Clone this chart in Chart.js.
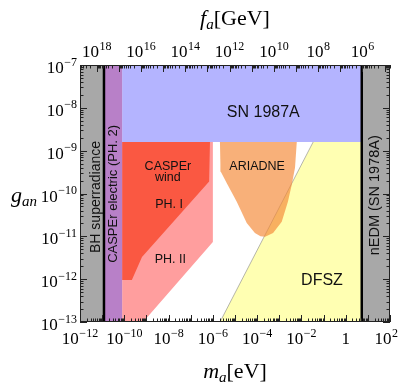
<!DOCTYPE html>
<html>
<head>
<meta charset="utf-8">
<script src="https://cdn.jsdelivr.net/npm/chart.js@4.4.0/dist/chart.umd.min.js"></script>
<style>
html,body{margin:0;padding:0;background:#ffffff;}
canvas{display:block;}
</style>
</head>
<body>
<canvas id="c" width="399" height="388"></canvas>
<script>
// ---- tick labels (powers of ten) ----
const massTickExponents = [-12, -10, -8, -6, -4, -2, 0, 2];
const couplingTickExponents = [-7, -8, -9, -10, -11, -12, -13];
const faTickExponents = [18, 16, 14, 12, 10, 8, 6];
// f_a [GeV] = faTimesMass / m_a [eV]
const faTimesMass = 5.7e6;

// ---- excluded / sensitivity regions: m_a [eV] and g_an ----
const bhMass = [1e-12, 1.21e-11, 1.21e-11, 1e-12, 1e-12];
const bhCoupling = [1e-13, 1e-13, 1e-7, 1e-7, 1e-13];

const casperElectricMass = [1.21e-11, 8e-11, 8e-11, 1.21e-11, 1.21e-11];
const casperElectricCoupling = [1e-13, 1e-13, 1e-7, 1e-7, 1e-13];

const sn1987aMass = [8e-11, 5.3, 5.3, 8e-11, 8e-11];
const sn1987aCoupling = [1.6e-9, 1.6e-9, 1e-7, 1e-7, 1.6e-9];

const nedmMass = [5.3, 1e2, 1e2, 5.3, 5.3];
const nedmCoupling = [1e-13, 1e-13, 1e-7, 1e-7, 1e-13];

const casperWindPh1Mass = [8e-11, 7.4e-7, 6.8e-7, 6.3e-10, 2.2e-10, 8e-11, 8e-11];
const casperWindPh1Coupling = [1.6e-9, 1.6e-9, 1.9e-10, 3.3e-12, 9.5e-13, 9.5e-13, 1.6e-9];

const casperWindPh2Mass = [8e-11, 1e-6, 1e-6, 7.1e-10, 8e-11, 8e-11];
const casperWindPh2Coupling = [1.6e-9, 1.6e-9, 7.4e-12, 1e-13, 1e-13, 1.6e-9];

const ariadneMass = [2.09e-6, 6.17e-3, 5.13e-3, 3.63e-3, 2.45e-3, 1.29e-3, 5.25e-4, 2.29e-4,
                     1.41e-4, 7.94e-5, 3.39e-5, 1.20e-5, 4.27e-6, 2.29e-6, 2.19e-6, 2.09e-6];
const ariadneCoupling = [1.6e-9, 1.6e-9, 3.98e-10, 1.58e-10, 6.46e-11, 2.19e-11, 1.20e-11, 9.8e-12,
                         1.0e-11, 1.20e-11, 2.04e-11, 6.46e-11, 1.74e-10, 3.24e-10, 5.0e-10, 1.6e-9];

const dfszMass = [2.1e-6, 3.4e-2, 1e2, 1e2, 2.1e-6];
const dfszCoupling = [1e-13, 1.6e-9, 1.6e-9, 1e-13, 1e-13];
const dfszEdgeMass = [2.1e-6, 3.4e-2];
const dfszEdgeCoupling = [1e-13, 1.6e-9];

const bhBoundMass = [1.21e-11, 1.21e-11];
const nedmBoundMass = [5.3, 5.3];
const fullCoupling = [1e-13, 1e-7];

// ---- region labels: text, m_a, g_an ----
const labelTexts = ['SN 1987A', 'BH superradiance', 'CASPEr electric (PH. 2)', 'nEDM (SN 1978A)',
                    'CASPEr', 'wind', 'PH. I', 'PH. II', 'ARIADNE', 'DFSZ'];
const labelMass = [1.9e-4, 5.2e-12, 3.1e-11, 21, 9.3e-9, 9.3e-9, 1.05e-8, 1.2e-8, 1.0e-4, 8.5e-2];
const labelCoupling = [7.6e-9, 8.3e-11, 9.8e-11, 9.1e-11, 4.2e-10, 2.3e-10, 5.4e-11, 2.8e-12, 4.2e-10, 9.5e-13];

function pts(xs, ys) { return xs.map((x, i) => ({x: x, y: ys[i]})); }

function region(data, color, order) {
  return { data: data, showLine: true, fill: 'shape', backgroundColor: color,
           borderColor: 'rgba(0,0,0,0)', borderWidth: 0, pointRadius: 0, order: order };
}

const datasets = [
  region(pts(dfszMass, dfszCoupling), 'rgb(255,255,178)', 20),
  { data: pts(dfszEdgeMass, dfszEdgeCoupling), showLine: true, fill: false, borderColor: 'rgba(140,140,140,0.8)',
    borderWidth: 0.8, pointRadius: 0, order: 19 },
  region(pts(ariadneMass, ariadneCoupling), 'rgba(244,138,58,0.68)', 18),
  region(pts(casperWindPh2Mass, casperWindPh2Coupling), 'rgb(255,158,158)', 17),
  region(pts(casperWindPh1Mass, casperWindPh1Coupling), 'rgb(250,88,66)', 16),
  region(pts(sn1987aMass, sn1987aCoupling), 'rgb(180,180,255)', 15),
  region(pts(casperElectricMass, casperElectricCoupling), 'rgb(184,128,200)', 14),
  region(pts(bhMass, bhCoupling), 'rgb(168,168,168)', 13),
  region(pts(nedmMass, nedmCoupling), 'rgb(168,168,168)', 12),
  { data: pts(bhBoundMass, fullCoupling), showLine: true, fill: false, borderColor: '#000',
    borderWidth: 2.5, pointRadius: 0, order: 2 },
  { data: pts(nedmBoundMass, fullCoupling), showLine: true, fill: false, borderColor: '#000',
    borderWidth: 2.5, pointRadius: 0, order: 1 }
];

const SERIF = '"Liberation Serif", "DejaVu Serif", serif';
const SANS = '"Liberation Sans", Arial, sans-serif';

function drawPower(ctx, exp, x, yBase, align) {
  const baseFont = '17px ' + SERIF, expFont = '12px ' + SERIF;
  const base = exp === 0 ? '1' : '10';
  const expStr = exp === 0 ? '' : String(exp).replace('-', '\u2212');
  ctx.font = baseFont; const wb = ctx.measureText(base).width;
  ctx.font = expFont; const we = expStr ? ctx.measureText(expStr).width + 0.5 : 0;
  const total = wb + we;
  let x0 = align === 'right' ? x - total : x - total / 2;
  if (x0 + total > 398) x0 = 398 - total;
  ctx.textAlign = 'left'; ctx.textBaseline = 'alphabetic';
  ctx.font = baseFont; ctx.fillText(base, x0, yBase);
  if (expStr) { ctx.font = expFont; ctx.fillText(expStr, x0 + wb + 0.5, yBase - 7.5); }
}

function drawTitle(ctx, parts, cx, yBase) {
  let w = 0;
  parts.forEach(p => { ctx.font = p[1]; w += ctx.measureText(p[0]).width; });
  let x = cx - w / 2;
  ctx.textAlign = 'left'; ctx.textBaseline = 'alphabetic';
  parts.forEach(p => { ctx.font = p[1]; ctx.fillText(p[0], x, yBase + p[2]); x += ctx.measureText(p[0]).width; });
}

const decorPlugin = {
  id: 'decor',
  afterDraw(chart) {
    const ctx = chart.ctx, a = chart.chartArea;
    const xs = chart.scales.x, ys = chart.scales.y, ts = chart.scales.xTop;
    ctx.save();
    ctx.fillStyle = '#111';
    const labelFonts = ['16px', '14px', '13px', '14.5px', '12.5px', '12.5px', '12.5px', '12.5px', '12.5px', '16px'];
    const labelRot = [0, -90, -90, -90, 0, 0, 0, 0, 0, 0];
    labelTexts.forEach((t, i) => {
      const px = xs.getPixelForValue(labelMass[i]);
      const py = ys.getPixelForValue(labelCoupling[i]);
      ctx.save();
      ctx.translate(px, py);
      ctx.rotate(labelRot[i] * Math.PI / 180);
      ctx.font = labelFonts[i] + ' ' + SANS;
      ctx.textAlign = 'center'; ctx.textBaseline = 'middle';
      ctx.fillText(t, 0, 0);
      ctx.restore();
    });

    ctx.strokeStyle = '#222'; ctx.lineWidth = 1;
    ctx.strokeRect(a.left + 0.5, a.top + 0.5, a.right - a.left - 1, a.bottom - a.top - 1);

    ctx.beginPath();
    for (let d = -12; d <= 2; d++) {
      for (let k = 1; k <= 9; k++) {
        const v = k * Math.pow(10, d);
        if (v > 1e2 * 1.0001) continue;
        const px = Math.round(xs.getPixelForValue(v)) + 0.5;
        const len = k === 1 ? 7 : 3.5;
        ctx.moveTo(px, a.bottom); ctx.lineTo(px, a.bottom - len);
      }
    }
    for (let d = 4; d <= 18; d++) {
      for (let k = 1; k <= 9; k++) {
        const v = k * Math.pow(10, d);
        if (v < ts.min || v > ts.max) continue;
        const px = Math.round(ts.getPixelForValue(v)) + 0.5;
        const len = k === 1 ? 7 : 3.5;
        ctx.moveTo(px, a.top); ctx.lineTo(px, a.top + len);
      }
    }
    for (let d = -13; d <= -7; d++) {
      for (let k = 1; k <= 9; k++) {
        const v = k * Math.pow(10, d);
        if (v > 1e-7 * 1.0001) continue;
        const py = Math.round(ys.getPixelForValue(v)) + 0.5;
        const len = k === 1 ? 7 : 3.5;
        ctx.moveTo(a.left, py); ctx.lineTo(a.left + len, py);
        ctx.moveTo(a.right, py); ctx.lineTo(a.right - len, py);
      }
    }
    ctx.strokeStyle = '#222'; ctx.lineWidth = 1; ctx.stroke();

    ctx.fillStyle = '#000';
    massTickExponents.forEach(e => drawPower(ctx, e, xs.getPixelForValue(Math.pow(10, e)), a.bottom + 22, 'center'));
    faTickExponents.forEach(e => drawPower(ctx, e, ts.getPixelForValue(Math.pow(10, e)), a.top - 8, 'center'));
    couplingTickExponents.forEach(e => drawPower(ctx, e, a.left - 3, ys.getPixelForValue(Math.pow(10, e)) + 8, 'right'));

    drawTitle(ctx, [['f', 'italic 22px ' + SERIF, 0], ['a', 'italic 15px ' + SERIF, 4], ['[GeV]', '22px ' + SERIF, 0]],
              (a.left + a.right) / 2, 25);
    drawTitle(ctx, [['m', 'italic 22px ' + SERIF, 0], ['a', 'italic 15px ' + SERIF, 4], ['[eV]', '22px ' + SERIF, 0]],
              (a.left + a.right) / 2, 378);
    drawTitle(ctx, [['g', 'italic 22px ' + SERIF, 0], ['an', 'italic 15px ' + SERIF, 4]], 24, 202);
    ctx.restore();
  }
};

new Chart(document.getElementById('c'), {
  type: 'scatter',
  data: { datasets: datasets },
  options: {
    responsive: false,
    animation: false,
    layout: { padding: { left: 80, right: 9, top: 65, bottom: 66 } },
    plugins: { legend: { display: false }, tooltip: { enabled: false } },
    scales: {
      x: { type: 'logarithmic', min: 1e-12, max: 1e2, display: false },
      y: { type: 'logarithmic', min: 1e-13, max: 1e-7, display: false },
      xTop: { type: 'logarithmic', position: 'top', reverse: true,
              min: faTimesMass / 1e2, max: faTimesMass / 1e-12, display: false }
    }
  },
  plugins: [decorPlugin]
});
</script>
</body>
</html>
